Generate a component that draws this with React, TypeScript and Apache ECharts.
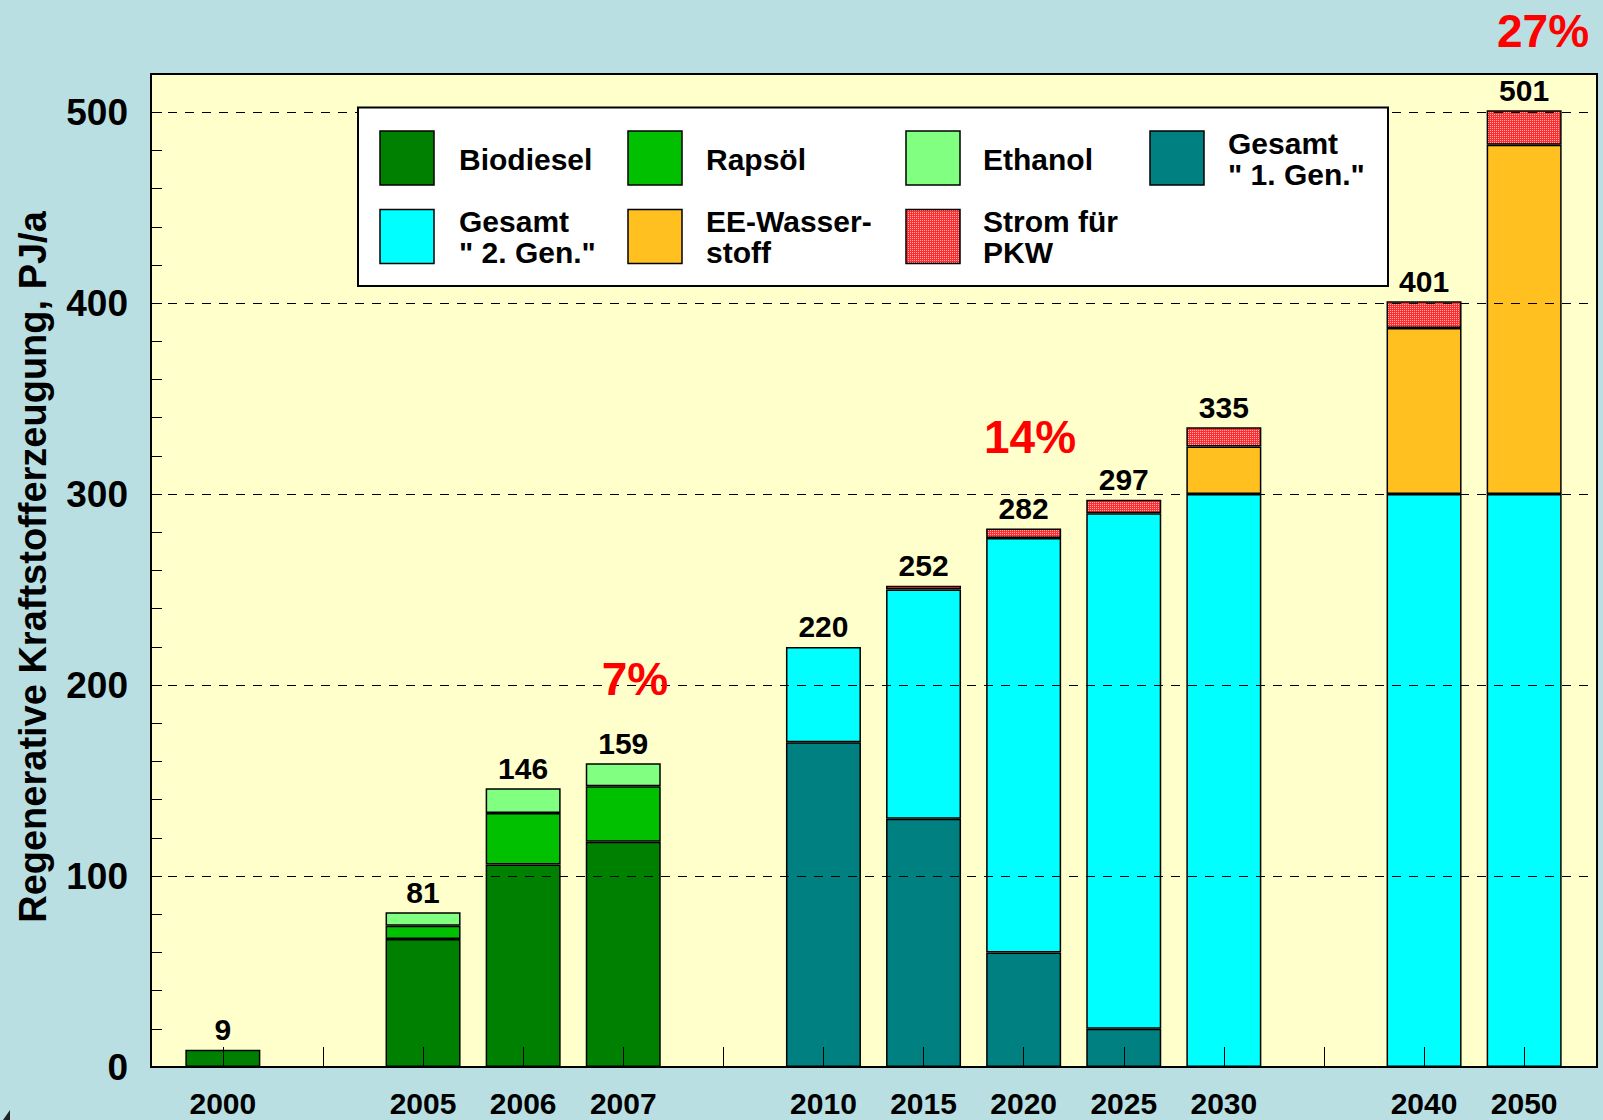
import React, { useEffect, useRef } from "react";
import * as echarts from "echarts";

const categories = ["2000", "", "2005", "2006", "2007", "", "2010", "2015", "2020", "2025", "2030", "", "2040", "2050"];
const biodiesel = [9, null, 67, 106, 118, null, null, null, null, null, null, null, null, null];
const rapsoel = [null, null, 7, 27, 29, null, null, null, null, null, null, null, null, null];
const ethanol = [null, null, 7, 13, 12, null, null, null, null, null, null, null, null, null];
const gen1 = [null, null, null, null, null, null, 170, 130, 60, 20, null, null, null, null];
const gen2 = [null, null, null, null, null, null, 50, 120, 217, 270, 300, null, 300, 300];
const wasserstoff = [null, null, null, null, null, null, null, null, null, null, 25, null, 87, 183];
const strom = [null, null, null, null, null, null, null, 2, 5, 7, 10, null, 14, 18];
const totals = [9, null, 81, 146, 159, null, 220, 252, 282, 297, 335, null, 401, 501];
const yTicks = [100, 200, 300, 400, 500];
const percentNotes = [
  { text: "7%", x: 635, y: 679 },
  { text: "14%", x: 1030, y: 437 },
  { text: "27%", x: 1543, y: 31 },
];

const FONT = "Liberation Sans, Arial, Helvetica, sans-serif";

function makePattern() {
  const c = document.createElement("canvas");
  c.width = 2;
  c.height = 2;
  const ctx = c.getContext("2d");
  if (ctx) {
    ctx.fillStyle = "#ff2e2e";
    ctx.fillRect(0, 0, 2, 2);
    ctx.fillStyle = "#ffb0b0";
    ctx.fillRect(0, 0, 1, 1);
  }
  return { image: c, repeat: "repeat" } as any;
}

export default function App() {
  const ref = useRef<HTMLDivElement>(null);
  useEffect(() => {
    if (!ref.current) return;
    const chart = echarts.init(ref.current, null, { renderer: "svg" });
    const pattern = makePattern();
    const colors: any[] = ["#008000", "#00c000", "#80ff80", "#008080", "#00ffff", "#ffc020", pattern];
    const names = ["Biodiesel", "Rapsöl", "Ethanol", "Gesamt \" 1. Gen.\"", "Gesamt \" 2. Gen.\"", "EE-Wasserstoff", "Strom für PKW"];
    const datas = [biodiesel, rapsoel, ethanol, gen1, gen2, wasserstoff, strom];

    const barSeries: any[] = datas.map((d, i) => ({
      name: names[i],
      type: "bar",
      xAxisIndex: 1,
      yAxisIndex: 1,
      stack: "total",
      barWidth: 75,
      data: d,
      itemStyle: { color: colors[i], borderColor: "#000", borderWidth: 1.5 },
      z: 3,
    }));
    barSeries.push({
      name: "Summe",
      type: "bar",
      xAxisIndex: 1,
      yAxisIndex: 1,
      stack: "total",
      barWidth: 75,
      data: totals.map((t) => (t == null ? null : 0)),
      itemStyle: { color: "rgba(0,0,0,0)", borderWidth: 0 },
      label: {
        show: true,
        position: "top",
        distance: 5,
        formatter: (p: any) => String(totals[p.dataIndex]),
        fontSize: 30,
        fontWeight: "bold",
        fontFamily: FONT,
        color: "#000",
      },
      z: 4,
    });
    barSeries.push({
      type: "line",
      xAxisIndex: 0,
      yAxisIndex: 0,
      data: [],
      markLine: {
        silent: true,
        symbol: "none",
        label: { show: false },
        lineStyle: { type: [9, 8], color: "#000", width: 1 },
        data: yTicks.map((v) => ({ yAxis: v })),
      },
      z: 1,
    });

    const legendCols = [380, 628, 906, 1150];
    const textCols = [459, 706, 983, 1228];
    const rowTop = [131, 209.5];
    const rowMid = [159, 237];
    const legendItems = [
      { t: "Biodiesel", c: 0, r: 0, col: 0 },
      { t: "Rapsöl", c: 1, r: 0, col: 1 },
      { t: "Ethanol", c: 2, r: 0, col: 2 },
      { t: "Gesamt\n\" 1. Gen.\"", c: 3, r: 0, col: 3 },
      { t: "Gesamt\n\" 2. Gen.\"", c: 4, r: 1, col: 0 },
      { t: "EE-Wasser-\nstoff", c: 5, r: 1, col: 1 },
      { t: "Strom für\nPKW", c: 6, r: 1, col: 2 },
    ];
    const graphics: any[] = [
      {
        type: "rect",
        shape: { x: 358, y: 107.5, width: 1030, height: 178.5 },
        style: { fill: "#fff", stroke: "#000", lineWidth: 2 },
        z: 50,
      },
    ];
    legendItems.forEach((it) => {
      graphics.push({
        type: "rect",
        shape: { x: legendCols[it.col], y: rowTop[it.r], width: 54, height: 54 },
        style: { fill: colors[it.c], stroke: "#000", lineWidth: 1.5 },
        z: 51,
      });
      graphics.push({
        type: "text",
        x: textCols[it.col],
        y: rowMid[it.r],
        style: {
          text: it.t,
          fill: "#000",
          fontSize: 30,
          fontWeight: "bold",
          fontFamily: FONT,
          lineHeight: 31,
          verticalAlign: "middle",
          align: "left",
        },
        z: 51,
      });
    });
    percentNotes.forEach((p) => {
      graphics.push({
        type: "text",
        x: p.x,
        y: p.y,
        style: {
          text: p.text,
          fill: "#ff0000",
          fontSize: 46,
          fontWeight: "bold",
          fontFamily: FONT,
          align: "center",
          verticalAlign: "middle",
        },
        z: 52,
      });
    });
    graphics.push({
      type: "text",
      x: 33,
      y: 567,
      rotation: Math.PI / 2,
      style: {
        text: "Regenerative Kraftstofferzeugung, PJ/a",
        fill: "#000",
        fontSize: 38,
        fontWeight: "bold",
        fontFamily: FONT,
        align: "center",
        verticalAlign: "middle",
      },
      z: 52,
    });
    graphics.push({
      type: "polygon",
      shape: { points: [[3, 1120], [10, 1110], [10, 1120]] },
      style: { fill: "#222" },
      z: 52,
    });

    chart.setOption({
      animation: false,
      backgroundColor: "#b9dfe2",
      textStyle: { fontFamily: FONT },
      grid: [
        { left: 151, top: 74, width: 1446, height: 993, show: true, backgroundColor: "#ffffcc", borderColor: "#000", borderWidth: 2 },
        { left: 172.8, top: 74, width: 1401.4, height: 993 },
      ],
      xAxis: [
        { gridIndex: 0, type: "value", show: false, min: 0, max: 1 },
        {
          gridIndex: 1,
          type: "category",
          data: categories,
          z: 10,
          axisLine: { show: false },
          axisTick: { show: true, inside: true, alignWithLabel: true, length: 20, interval: 0, lineStyle: { color: "#000", width: 1 } },
          axisLabel: { interval: 0, margin: 21, fontSize: 30, fontWeight: "bold", fontFamily: FONT, color: "#000" },
          splitLine: { show: false },
        },
      ],
      yAxis: [
        {
          gridIndex: 0,
          type: "value",
          min: 0,
          max: 520,
          interval: 20,
          z: 10,
          axisLine: { show: false },
          axisTick: { show: true, inside: true, length: 11, lineStyle: { color: "#000", width: 1 } },
          axisLabel: {
            margin: 23,
            fontSize: 37,
            fontWeight: "bold",
            fontFamily: FONT,
            color: "#000",
            formatter: (v: number) => (v % 100 === 0 && v <= 500 ? String(v) : ""),
          },
          splitLine: { show: false },
        },
        { gridIndex: 1, type: "value", min: 0, max: 520, show: false, splitLine: { show: false } },
      ],
      series: barSeries,
      graphic: graphics,
    });
    return () => chart.dispose();
  }, []);
  return <div ref={ref} style={{ position: "absolute", left: 0, top: 0, width: 1603, height: 1120 }} />;
}
